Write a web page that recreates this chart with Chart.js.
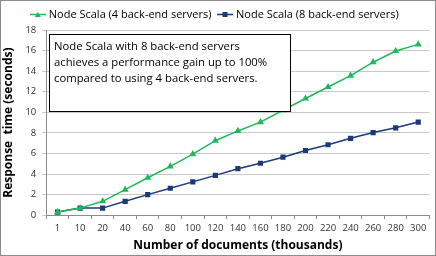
<!DOCTYPE html>
<html>
<head>
<meta charset="utf-8">
<script src="https://cdn.jsdelivr.net/npm/chart.js@4"></script>
<style>
  body { margin: 0; background: #fff; }
  #wrap { width: 436px; height: 256px; box-sizing: border-box; border: 1px solid #8c8c8c; }
</style>
</head>
<body>
<div id="wrap"><canvas id="myChart" width="434" height="254"></canvas></div>
<script>
const docs = ['1', '10', '20', '40', '60', '80', '100', '120', '140', '160', '180', '200', '220', '240', '260', '280', '300'];
const scala4 = [0.3, 0.69, 1.35, 2.49, 3.64, 4.75, 5.93, 7.24, 8.19, 9.05, 10.2, 11.34, 12.46, 13.57, 14.87, 15.96, 16.6];
const scala8 = [0.3, 0.69, 0.69, 1.35, 2.0, 2.62, 3.24, 3.87, 4.52, 5.05, 5.64, 6.29, 6.85, 7.47, 8.03, 8.49, 9.05];
const noteLines = ['Node Scala with 8 back-end servers', 'achieves a performance gain up to 100%', 'compared to using 4 back-end servers.'];

const font = "'Open Sans', 'Liberation Sans', sans-serif";
const green = '#21b85a', navy = '#1b3a7b';

// little legend swatch: line with the marker in the middle
function swatch(color, shape) {
  const c = document.createElement('canvas');
  c.width = 16; c.height = 7;
  const g = c.getContext('2d');
  g.strokeStyle = color; g.fillStyle = color; g.lineWidth = 1.5;
  g.beginPath(); g.moveTo(0, 3.5); g.lineTo(16, 3.5); g.stroke();
  if (shape === 'tri') {
    g.beginPath(); g.moveTo(8, 1); g.lineTo(11, 6); g.lineTo(5, 6); g.closePath(); g.fill();
  } else {
    g.fillRect(5.5, 1, 5, 5);
  }
  return c;
}

const noteBox = {
  id: 'noteBox',
  afterDraw(chart) {
    const ctx = chart.ctx;
    ctx.save();
    ctx.fillStyle = '#fff';
    ctx.fillRect(48.5, 33.5, 241, 77);
    ctx.strokeStyle = '#000';
    ctx.lineWidth = 1;
    ctx.strokeRect(48.5, 33.5, 241, 77);
    ctx.fillStyle = '#000';
    ctx.font = '11.3px ' + font;
    ctx.textBaseline = 'middle';
    noteLines.forEach((t, i) => ctx.fillText(t, 53, 46 + i * 16));
    ctx.restore();
  }
};

new Chart(document.getElementById("myChart"), {
  type: 'line',
  data: {
    labels: docs,
    datasets: [{
        data: scala4,
        label: "Node Scala (4 back-end servers)",
        borderColor: green,
        backgroundColor: green,
        pointStyle: 'triangle',
        pointRadius: 2.6,
        borderWidth: 1.5,
        fill: false
      }, {
        data: scala8,
        label: "Node Scala (8 back-end servers)",
        borderColor: navy,
        backgroundColor: navy,
        pointStyle: 'rect',
        pointRadius: 2.6,
        borderWidth: 1.5,
        fill: false
      }
    ]
  },
  options: {
    responsive: false,
    animation: false,
    layout: { padding: { left: 0, right: 5, top: 0, bottom: 2 } },
    plugins: {
      legend: {
        position: 'top',
        labels: {
          usePointStyle: true,
          font: { family: font, size: 11 },
          color: '#000',
          padding: 8,
          generateLabels(chart) {
            return chart.data.datasets.map((ds, i) => ({
              text: ds.label,
              pointStyle: swatch(ds.borderColor, i === 0 ? 'tri' : 'sq'),
              fillStyle: ds.borderColor,
              strokeStyle: ds.borderColor,
              lineWidth: 0,
              fontColor: '#000',
              datasetIndex: i,
              hidden: false
            }));
          }
        }
      },
      tooltip: { enabled: false }
    },
    scales: {
      x: {
        offset: true,
        grid: { offset: true, drawOnChartArea: false, tickLength: 4, color: '#8c8c8c' },
        border: { color: '#8c8c8c' },
        ticks: { font: { family: font, size: 9.5 }, color: '#333', maxRotation: 0, autoSkip: false },
        title: { display: true, text: 'Number of documents (thousands)', font: { family: font, size: 12, weight: 'bold' }, color: '#000', padding: { top: 2, bottom: 0 } }
      },
      y: {
        min: 0,
        max: 18,
        grid: { color: '#c8c8c8', tickLength: 4 },
        border: { color: '#8c8c8c' },
        ticks: { stepSize: 2, font: { family: font, size: 9.5 }, color: '#333', padding: 6 },
        title: { display: true, text: 'Response  time (seconds)', font: { family: font, size: 12, weight: 'bold' }, color: '#000', padding: { top: 0, bottom: 4 } }
      }
    }
  },
  plugins: [noteBox]
});
</script>
</body>
</html>
